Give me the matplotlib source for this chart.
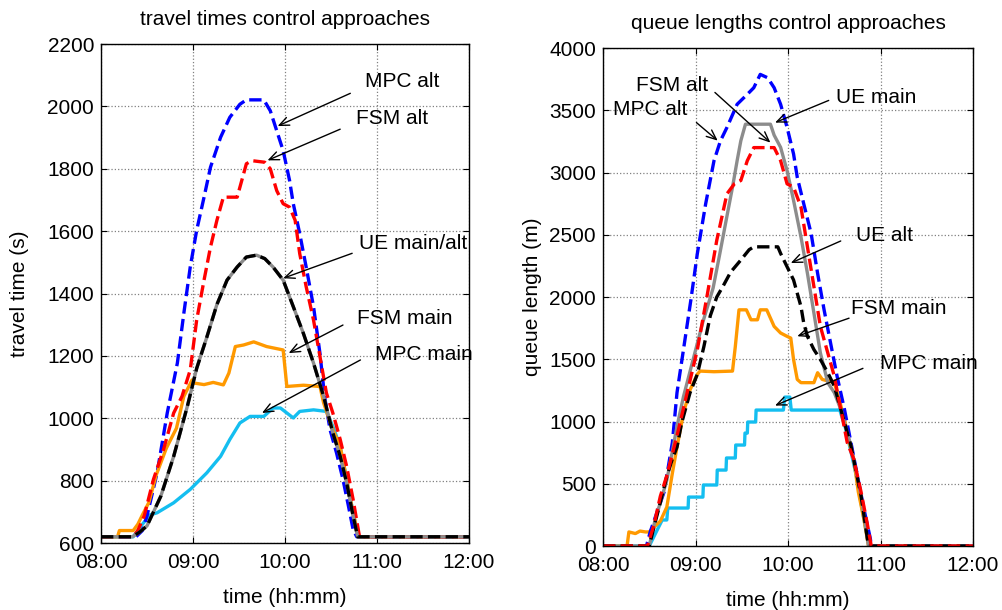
import numpy as np
import matplotlib
matplotlib.use("Agg")
import matplotlib.pyplot as plt
from matplotlib.ticker import FuncFormatter

plt.rcParams['font.family'] = ['Liberation Sans', 'DejaVu Sans']

# ---- travel times (left), time in hours ----
tt_mpc_alt_t = [8.0, 8.38, 8.45, 8.5, 8.61, 8.72, 8.83, 8.9, 8.97, 9.04, 9.12, 9.19, 9.3, 9.4, 9.51, 9.58,
                9.77, 9.84, 9.91, 9.98, 10.05, 10.09, 10.16, 10.23, 10.31, 10.38, 10.43, 10.49, 10.56,
                10.63, 10.69, 10.74, 10.78, 12.0]
tt_mpc_alt = [620, 620, 640, 687, 825, 1017, 1177, 1336, 1485, 1603, 1709, 1805, 1901, 1965, 2007, 2021,
              2021, 1986, 1922, 1858, 1762, 1688, 1592, 1485, 1358, 1208, 1070, 963, 889,
              804, 718, 644, 620, 620]

tt_fsm_alt_t = [8.0, 8.35, 8.4, 8.47, 8.57, 8.68, 8.79, 8.88, 8.97, 9.04, 9.12, 9.19, 9.26, 9.33, 9.48, 9.51,
                9.58, 9.64, 9.78, 9.84, 9.91, 9.98, 10.05, 10.11, 10.16, 10.23, 10.31, 10.38, 10.45,
                10.52, 10.6, 10.67, 10.74, 10.81, 12.0]
tt_fsm_alt = [620, 620, 640, 687, 804, 900, 1017, 1070, 1155, 1315, 1443, 1549, 1635, 1709, 1709, 1741,
              1816, 1826, 1821, 1800, 1730, 1688, 1677, 1635, 1528, 1422, 1315, 1198, 1081,
              1017, 932, 846, 740, 620, 620]

tt_ue_t = [8.0, 8.34, 8.42, 8.5, 8.65, 8.79, 8.94, 9.04, 9.15, 9.26, 9.37, 9.48, 9.58, 9.69, 9.78, 9.87,
           9.98, 10.09, 10.2, 10.31, 10.42, 10.52, 10.6, 10.67, 10.74, 10.79, 12.0]
tt_ue = [620, 620, 635, 655, 750, 878, 1040, 1160, 1260, 1365, 1443, 1485, 1517, 1523, 1512, 1485,
         1443, 1358, 1272, 1177, 1070, 953, 878, 793, 687, 620, 620]

tt_fsm_main_t = [8.0, 8.18, 8.2, 8.35, 8.4, 8.45, 8.52, 8.6, 8.71, 8.82, 8.9, 8.99, 9.01, 9.12, 9.22, 9.33,
                 9.39, 9.46, 9.55, 9.66, 9.8, 9.98, 10.02, 10.2, 10.38, 10.42, 10.52, 10.6, 10.67, 10.74,
                 10.8, 12.0]
tt_fsm_main = [620, 620, 640, 640, 660, 690, 730, 818, 904, 968, 1070, 1123, 1113, 1108, 1115, 1107,
               1145, 1230, 1235, 1245, 1230, 1219, 1102, 1106, 1102, 1049, 963, 910, 804, 697,
               620, 620]

tt_mpc_main_t = [8.0, 8.35, 8.45, 8.53, 8.61, 8.79, 8.97, 9.15, 9.3, 9.4, 9.51, 9.62, 9.77, 9.87, 9.95,
                 10.09, 10.16, 10.31, 10.45, 10.52, 10.6, 10.67, 10.74, 10.8, 12.0]
tt_mpc_main = [620, 620, 660, 690, 697, 729, 772, 825, 878, 932, 985, 1006, 1006, 1033, 1033,
               1001, 1022, 1027, 1022, 974, 910, 804, 697, 620, 620]

# ---- queue lengths (right) ----
ql_mpc_alt_t = [8.0, 8.47, 8.51, 8.66, 8.75, 8.8, 8.87, 8.95, 9.02, 9.11, 9.2, 9.27, 9.34, 9.45, 9.56, 9.63,
                9.7, 9.78, 9.85, 9.92, 9.99, 10.06, 10.1, 10.17, 10.25, 10.32, 10.39, 10.46, 10.53,
                10.61, 10.68, 10.75, 10.82, 10.89, 10.9, 12.0]
ql_mpc_alt = [0, 0, 113, 433, 832, 1232, 1578, 1977, 2350, 2749, 3095, 3255, 3362, 3548, 3628, 3681,
              3788, 3761, 3681, 3548, 3362, 3149, 2962, 2749, 2510, 2190, 1897, 1631, 1365,
              1099, 832, 566, 300, 60, 0, 0]

ql_fsm_alt_t = [8.0, 8.48, 8.55, 8.62, 8.69, 8.8, 8.91, 9.02, 9.13, 9.23, 9.34, 9.42, 9.49, 9.56, 9.63,
                9.85, 9.92, 9.99, 10.06, 10.14, 10.21, 10.28, 10.35, 10.43, 10.5, 10.57, 10.64, 10.71,
                10.79, 10.86, 10.9, 12.0]
ql_fsm_alt = [0, 0, 167, 400, 566, 886, 1232, 1578, 2030, 2456, 2829, 2909, 2936, 3095, 3200,
              3200, 3095, 2909, 2882, 2723, 2403, 2084, 1764, 1551, 1365, 1099, 832, 699,
              433, 167, 0, 0]

ql_ue_main_t = [8.0, 8.5, 8.56, 8.62, 8.69, 8.75, 8.8, 8.87, 8.94, 9.01, 9.08, 9.19, 9.26, 9.34, 9.4,
                9.45, 9.49, 9.54, 9.81, 9.85, 9.92, 9.99, 10.06, 10.14, 10.21, 10.28, 10.35, 10.43,
                10.5, 10.57, 10.68, 10.79, 10.87, 12.0]
ql_ue_main = [0, 0, 200, 350, 530, 760, 960, 1200, 1400, 1600, 1800, 2071, 2337, 2650, 2882,
              3095, 3255, 3388, 3388, 3300, 3202, 3015, 2776, 2483, 2190, 1871, 1551, 1312,
              1232, 1099, 806, 403, 0, 0]

ql_ue_alt_t = [8.0, 8.5, 8.55, 8.62, 8.69, 8.75, 8.8, 8.85, 8.94, 9.02, 9.09, 9.16, 9.23, 9.3, 9.38, 9.49,
               9.58, 9.63, 9.89, 9.92, 9.99, 10.06, 10.1, 10.14, 10.17, 10.21, 10.28, 10.35, 10.43,
               10.5, 10.57, 10.68, 10.79, 10.87, 12.0]
ql_ue_alt = [0, 0, 150, 350, 560, 700, 795, 988, 1229, 1380, 1600, 1850, 2000, 2090, 2200, 2297,
             2380, 2403, 2403, 2350, 2243, 2137, 2030, 1924, 1791, 1684, 1578, 1498, 1392,
             1285, 1099, 806, 403, 0, 0]

ql_fsm_main_t = [8.0, 8.26, 8.28, 8.35, 8.4, 8.46, 8.5, 8.55, 8.62, 8.69, 8.75, 8.8, 8.87, 8.94, 9.02, 9.05,
                 9.2, 9.4, 9.43, 9.47, 9.55, 9.6, 9.67, 9.7, 9.77, 9.85, 9.92, 9.99, 10.03, 10.06,
                 10.1, 10.14, 10.28, 10.32, 10.37, 10.5, 10.54, 10.61, 10.65, 10.71, 10.76, 10.82, 10.87, 12.0]
ql_fsm_main = [0, 0, 113, 100, 120, 113, 113, 150, 200, 313, 586, 795, 1068, 1253, 1380, 1405,
               1400, 1405, 1600, 1897, 1897, 1817, 1817, 1897, 1897, 1764, 1711, 1684, 1670, 1498,
               1338, 1312, 1312, 1392, 1338, 1312, 1209, 1024, 862, 701, 435, 218, 0, 0]

ql_mpc_main_t = [8.0, 8.5, 8.58, 8.64, 8.69, 8.7, 8.92, 8.925, 9.08, 9.085, 9.23, 9.235, 9.33, 9.335, 9.43,
                 9.435, 9.53, 9.535, 9.56, 9.565, 9.65, 9.655, 9.95, 9.965, 10.02, 10.035, 10.56, 10.62,
                 10.68, 10.74, 10.8, 10.86, 10.88, 12.0]
ql_mpc_main = [0, 0, 120, 209, 209, 305, 305, 393, 393, 490, 490, 610, 610, 707, 707,
               811, 811, 907, 907, 996, 996, 1092, 1092, 1196, 1196, 1092, 1092, 950,
               760, 560, 300, 60, 0, 0]

BLUE, RED, ORANGE, CYAN, GRAY = '#0000FF', '#FF0000', '#FF9900', '#14BEF0', '#8C8C8C'
LW = 2.4
FS = 15


def hhmm(v, _):
    h = int(v)
    m = int(round((v - h) * 60))
    return f"{h:02d}:{m:02d}"


def style(ax):
    ax.set_xlim(8, 12)
    ax.set_xticks([8, 9, 10, 11, 12])
    ax.xaxis.set_major_formatter(FuncFormatter(hhmm))
    ax.grid(True, linestyle=':', color='#808080', lw=0.9)
    ax.tick_params(direction='in', top=True, right=True, labelsize=FS, length=4)
    ax.tick_params(axis='x', pad=7)
    ax.tick_params(axis='y', pad=5)
    for s in ax.spines.values():
        s.set_linewidth(1.0)
    ax.set_xlabel('time (hh:mm)', fontsize=FS, labelpad=12)


def label(ax, text, pos, tail, tip):
    ax.text(pos[0], pos[1], text, fontsize=FS, ha='left', va='center')
    ax.annotate('', xy=tip, xytext=tail,
                arrowprops=dict(arrowstyle='->,head_length=0.7,head_width=0.3', lw=1.0, color='k',
                                shrinkA=0, shrinkB=0))


fig = plt.figure(figsize=(10.03, 6.10), dpi=100)
ax1 = fig.add_axes([0.1007, 0.1098, 0.3669, 0.818])
ax2 = fig.add_axes([0.6012, 0.1049, 0.3689, 0.8164])

# left panel
ax1.plot(tt_mpc_main_t, tt_mpc_main, color=CYAN, lw=LW)
ax1.plot(tt_mpc_alt_t, tt_mpc_alt, '--', color=BLUE, lw=LW)
ax1.plot(tt_fsm_main_t, tt_fsm_main, color=ORANGE, lw=LW)
ax1.plot(tt_fsm_alt_t, tt_fsm_alt, '--', color=RED, lw=LW)
ax1.plot(tt_ue_t, tt_ue, color=GRAY, lw=LW)
ax1.plot(tt_ue_t, tt_ue, '--', color='k', lw=LW)
style(ax1)
ax1.set_ylim(600, 2200)
ax1.set_yticks(range(600, 2201, 200))
ax1.set_ylabel('travel time (s)', fontsize=FS, labelpad=13)
ax1.set_title('travel times control approaches', fontsize=FS, pad=14)

label(ax1, 'MPC alt', (10.87, 2081), (10.71, 2042), (9.92, 1937))
label(ax1, 'FSM alt', (10.77, 1962), (10.6, 1927), (9.81, 1827))
label(ax1, 'UE main/alt', (10.8, 1562), (10.73, 1529), (9.98, 1449))
label(ax1, 'FSM main', (10.78, 1321), (10.63, 1299), (10.04, 1209))
label(ax1, 'MPC main', (10.98, 1206), (10.82, 1187), (9.75, 1017))

# right panel
ax2.plot(ql_mpc_main_t, ql_mpc_main, color=CYAN, lw=LW)
ax2.plot(ql_fsm_main_t, ql_fsm_main, color=ORANGE, lw=LW)
ax2.plot(ql_mpc_alt_t, ql_mpc_alt, '--', color=BLUE, lw=LW)
ax2.plot(ql_ue_main_t, ql_ue_main, color=GRAY, lw=LW)
ax2.plot(ql_ue_alt_t, ql_ue_alt, '--', color='k', lw=LW)
ax2.plot(ql_fsm_alt_t, ql_fsm_alt, '--', color=RED, lw=LW)
style(ax2)
ax2.set_ylim(0, 4000)
ax2.set_yticks(range(0, 4001, 500))
ax2.set_ylabel('queue length (m)', fontsize=FS, labelpad=5)
ax2.set_title('queue lengths control approaches', fontsize=FS, pad=14)

label(ax2, 'FSM alt', (8.36, 3700), (9.21, 3643), (9.81, 3240))
label(ax2, 'MPC alt', (8.11, 3506), (9.01, 3401), (9.24, 3256))
label(ax2, 'UE main', (10.52, 3603), (10.44, 3579), (9.86, 3401))
label(ax2, 'UE alt', (10.74, 2491), (10.57, 2450), (10.03, 2273))
label(ax2, 'FSM main', (10.68, 1910), (10.66, 1830), (10.1, 1685))
label(ax2, 'MPC main', (10.99, 1467), (10.81, 1427), (9.86, 1128))

fig.savefig('out.png', dpi=100)
